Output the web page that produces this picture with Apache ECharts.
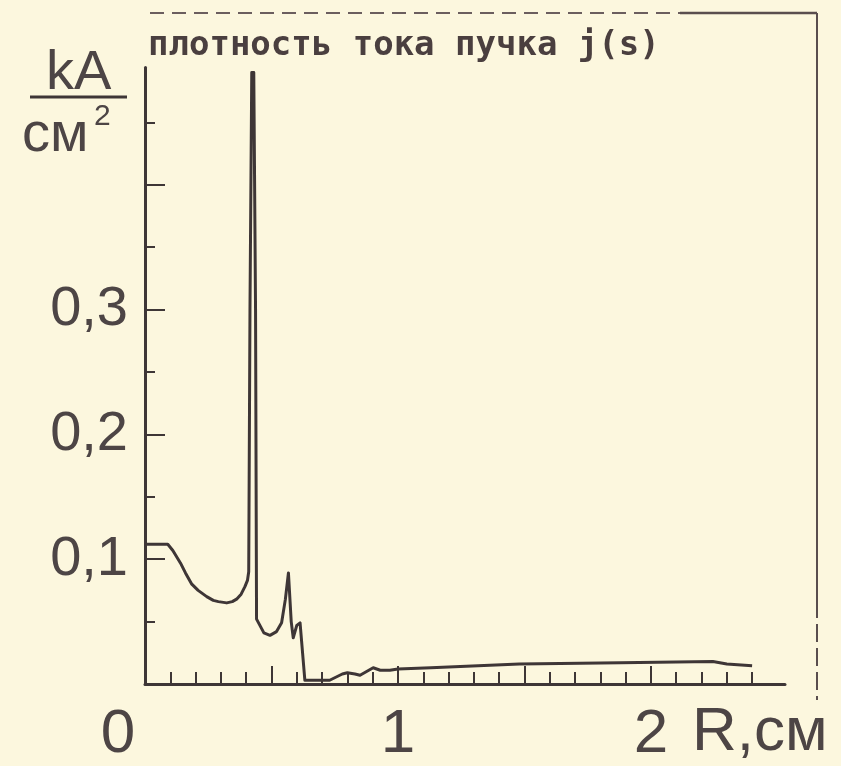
<!DOCTYPE html>
<html>
<head>
<meta charset="utf-8">
<script src="https://cdn.jsdelivr.net/npm/echarts@6/dist/echarts.min.js"></script>
<style>
  html, body { margin: 0; padding: 0; background: #fcf7de; }
  #echarts_id { width: 841px; height: 766px; }
</style>
</head>
<body>
<div id="echarts_id"></div>
<script>
// радиус R, см
var rValues = [0.00, 0.09, 0.11, 0.14, 0.16, 0.185, 0.21, 0.244, 0.27, 0.29, 0.323, 0.345, 0.362, 0.38, 0.395, 0.405,
    0.41, 0.415, 0.422, 0.43, 0.437, 0.441,
    0.47, 0.494, 0.52, 0.54, 0.555, 0.567, 0.578, 0.586, 0.60, 0.613, 0.632, 0.73, 0.78, 0.80, 0.83, 0.85,
    0.902, 0.93, 0.968, 1.00, 1.13, 1.48, 1.88, 2.245, 2.30, 2.40];
// плотность тока j, kA/см2
var jValues = [0.112, 0.112, 0.107, 0.097, 0.089, 0.080, 0.075, 0.070, 0.067, 0.066, 0.065, 0.066, 0.068, 0.072, 0.078, 0.083,
    0.09, 0.30, 0.49, 0.49, 0.30, 0.052,
    0.041, 0.039, 0.042, 0.049, 0.068, 0.089, 0.050, 0.037, 0.047, 0.049, 0.003, 0.003, 0.008, 0.009, 0.008, 0.007,
    0.013, 0.011, 0.011, 0.012, 0.013, 0.016, 0.017, 0.018, 0.016, 0.0147];

var xLabels = [0, 1, 2];
var xMajorTicks = [0.5, 1, 1.5, 2];
var xMinorTicks = [0.1, 0.2, 0.3, 0.4, 0.6, 0.7, 0.8, 0.9, 1.1, 1.2, 1.3, 1.4, 1.6, 1.7, 1.8, 1.9, 2.1, 2.2, 2.3, 2.4];
var yLabels = [0.1, 0.2, 0.3];
var yMajorTicks = [0.1, 0.2, 0.3, 0.4];
var yMinorTicks = [0.05, 0.15, 0.25, 0.35, 0.45];

var ink = '#3e3636';
var textInk = '#4d4545';

var myChart = echarts.init(document.getElementById('echarts_id'));

var points = rValues.map(function (r, i) { return [r, jValues[i]]; });

option = {
    backgroundColor: '#fcf7de',
    animation: false,
    title: {
        text: 'плотность тока пучка j(s)',
        left: 143,
        top: 24,
        textStyle: {
            fontFamily: 'DejaVu Sans Mono',
            fontWeight: 'bold',
            fontSize: 34,
            color: '#4a3f3f'
        }
    },
    grid: { left: 145, right: 56, top: 67.5, bottom: 81 },
    xAxis: [{
        type: 'value',
        min: 0,
        max: 2.53,
        splitLine: { show: false },
        axisLine: { lineStyle: { color: ink, width: 3 } },
        axisTick: { inside: true, length: 18, customValues: xMajorTicks, lineStyle: { color: ink, width: 2 } },
        axisLabel: {
            customValues: xLabels,
            margin: 20,
            fontFamily: 'Liberation Sans',
            fontSize: 62,
            color: textInk,
            formatter: function (v) {
                return v === 0 ? '{z|0}' : String(v);
            },
            rich: {
                z: { fontFamily: 'Liberation Sans', fontSize: 62, color: textInk, padding: [0, 54, 0, 0] }
            }
        }
    }, {
        type: 'value',
        min: 0,
        max: 2.53,
        position: 'bottom',
        splitLine: { show: false },
        axisLine: { show: false },
        axisTick: { inside: true, length: 12, customValues: xMinorTicks, lineStyle: { color: ink, width: 2 } },
        axisLabel: { show: false }
    }],
    yAxis: [{
        type: 'value',
        min: 0,
        max: 0.494,
        splitLine: { show: false },
        axisLine: { lineStyle: { color: ink, width: 3 } },
        axisTick: { inside: true, length: 20, customValues: yMajorTicks, lineStyle: { color: ink, width: 2 } },
        axisLabel: {
            customValues: yLabels,
            margin: 17,
            fontFamily: 'Liberation Sans',
            fontSize: 56,
            color: textInk,
            formatter: function (v) {
                return v.toFixed(1).replace('.', ',');
            }
        }
    }, {
        type: 'value',
        min: 0,
        max: 0.494,
        position: 'left',
        splitLine: { show: false },
        axisLine: { show: false },
        axisTick: { inside: true, length: 10, customValues: yMinorTicks, lineStyle: { color: ink, width: 2 } },
        axisLabel: { show: false }
    }],
    graphic: [
        // единицы по оси y
        { type: 'text', left: 46, top: 46, style: { text: 'kA', fontFamily: 'Liberation Sans', fontSize: 56, fill: textInk } },
        { type: 'line', shape: { x1: 30, y1: 97, x2: 127, y2: 97 }, style: { stroke: ink, lineWidth: 3 } },
        { type: 'text', left: 22, top: 108, style: { text: 'см', fontFamily: 'Liberation Sans', fontSize: 56, fill: textInk } },
        { type: 'text', left: 94, top: 102, style: { text: '2', fontFamily: 'Liberation Sans', fontSize: 30, fill: textInk } },
        { type: 'text', left: 692, top: 702, style: { text: 'R,см', fontFamily: 'Liberation Sans', fontSize: 62, fill: textInk } },
        // рамка
        { type: 'line', shape: { x1: 150, y1: 13, x2: 680, y2: 13 }, style: { stroke: '#6b5e5e', lineWidth: 2, lineDash: [14, 8] } },
        { type: 'line', shape: { x1: 680, y1: 13, x2: 817, y2: 13 }, style: { stroke: '#5a4e4e', lineWidth: 2.5 } },
        { type: 'line', shape: { x1: 817, y1: 13, x2: 817, y2: 600 }, style: { stroke: '#5a4e4e', lineWidth: 2 } },
        { type: 'line', shape: { x1: 817, y1: 600, x2: 817, y2: 700 }, style: { stroke: '#5a4e4e', lineWidth: 2, lineDash: [18, 6] } }
    ],
    series: [{
        name: 'j(s)',
        type: 'line',
        data: points,
        showSymbol: false,
        symbol: 'none',
        lineStyle: { color: ink, width: 3, join: 'round' }
    }]
};

myChart.setOption(option);
</script>
</body>
</html>
